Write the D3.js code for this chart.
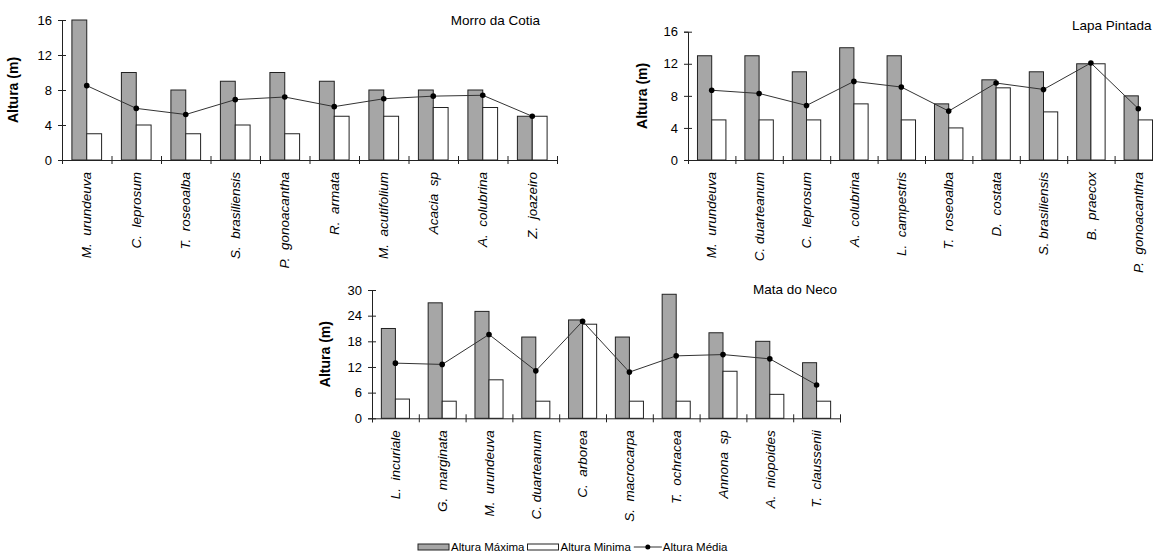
<!DOCTYPE html>
<html>
<head>
<meta charset="utf-8">
<script src="https://cdn.jsdelivr.net/npm/d3@7"></script>
<style>
  body { margin: 0; background: #fff; }
  svg { display: block; font-family: "Liberation Sans", Arial, sans-serif; }
</style>
</head>
<body>
<svg width="1153" height="553"></svg>
<script>
// Morro da Cotia
let cotiaSpecies = ["M.  urundeuva", "C.  leprosum", "T.  roseoalba", "S.  brasiliensis", "P.  gonoacantha",
    "R.  armata", "M.  acutifolium", "Acacia  sp", "A.  colubrina", "Z.  joazeiro"];
let cotiaMax = [16, 10, 8, 9, 10, 9, 8, 8, 8, 5];
let cotiaMin = [3, 4, 3, 4, 3, 5, 5, 6, 6, 5];
let cotiaMean = [8.5, 5.9, 5.2, 6.9, 7.2, 6.1, 7.0, 7.3, 7.4, 5.0];
let cotiaTicks = [0, 4, 8, 12, 16];

// Lapa Pintada
let lapaSpecies = ["M.  urundeuva", "C. duarteanum", "C.  leprosum", "A.  colubrina", "L.  campestris",
    "T.  roseoalba", "D.  costata", "S. brasiliensis", "B.  praecox", "P.  gonoacanthra"];
let lapaMax = [13, 13, 11, 14, 13, 7, 10, 11, 12, 8];
let lapaMin = [5, 5, 5, 7, 5, 4, 9, 6, 12, 5];
let lapaMean = [8.7, 8.3, 6.8, 9.8, 9.1, 6.1, 9.6, 8.8, 12.1, 6.4];
let lapaTicks = [0, 4, 8, 12, 16];

// Mata do Neco
let necoSpecies = ["L.  incuriale", "G.  marginata", "M.  urundeuva", "C. duarteanum", "C.  arborea",
    "S.  macrocarpa", "T.  ochracea", "Annona  sp", "A.  niopoides", "T.  claussenii"];
let necoMax = [21, 27, 25, 19, 23, 19, 29, 20, 18, 13];
let necoMin = [4.5, 4, 9, 4, 22, 4, 4, 11, 5.6, 4];
let necoMean = [12.9, 12.6, 19.6, 11.1, 22.7, 10.8, 14.6, 14.9, 13.9, 7.8];
let necoTicks = [0, 6, 12, 18, 24, 30];

let legendLabels = ["Altura Máxima", "Altura Minima", "Altura Média"];

let svg = d3.select('svg');

function drawPanel(p) {
    let g = svg.append('g');
    let n = p.species.length;
    let top = p.ticks[p.ticks.length - 1];

    let yScale = d3.scaleLinear()
        .domain([0, top])
        .range([p.bottom, p.top]);

    let xScale = d3.scaleBand()
        .domain(p.species)
        .range([p.left, p.right])
        .padding(0);

    let bw = xScale.bandwidth();
    let sub = d3.scaleBand()
        .domain(['max', 'min'])
        .range([bw * 0.2, bw * 0.8])
        .padding(0);

    // y axis
    let yAxis = g.append('g')
        .attr('transform', `translate(${p.left}, 0)`)
        .call(d3.axisLeft(yScale).tickValues(p.ticks).tickSize(4).tickPadding(6));
    yAxis.select('.domain').attr('stroke', '#222');
    yAxis.selectAll('.tick line').attr('x1', 4).attr('x2', -4).attr('stroke', '#222');
    yAxis.selectAll('.tick text')
        .style('font-family', '"Liberation Sans", Arial, sans-serif')
        .style('font-size', '13px')
        .attr('fill', '#000');

    g.append('text')
        .attr('transform', `translate(${p.left - p.labelGap}, ${(p.top + p.bottom) / 2}) rotate(-90)`)
        .attr('text-anchor', 'middle')
        .style('font-size', '14px')
        .style('font-weight', 'bold')
        .text('Altura (m)');

    // bars
    let groups = g.selectAll('.cat')
        .data(p.species)
        .enter()
        .append('g')
        .attr('transform', (s) => `translate(${xScale(s)}, 0)`);

    groups.append('rect')
        .attr('x', sub('max'))
        .attr('y', (s, i) => yScale(p.max[i]))
        .attr('width', sub.bandwidth())
        .attr('height', (s, i) => p.bottom - yScale(p.max[i]))
        .attr('fill', '#a6a6a6')
        .attr('stroke', '#222')
        .attr('stroke-width', 1);

    groups.append('rect')
        .attr('x', sub('min'))
        .attr('y', (s, i) => yScale(p.min[i]))
        .attr('width', sub.bandwidth())
        .attr('height', (s, i) => p.bottom - yScale(p.min[i]))
        .attr('fill', '#fff')
        .attr('stroke', '#222')
        .attr('stroke-width', 1);

    // x axis with crossing ticks at category boundaries
    let xEdges = d3.scaleLinear().domain([0, n]).range([p.left, p.right]);
    let xAxis = g.append('g')
        .attr('transform', `translate(0, ${p.bottom})`)
        .call(d3.axisBottom(xEdges).ticks(n).tickFormat('').tickSizeOuter(0).tickSize(4));
    xAxis.select('.domain').attr('stroke', '#222');
    xAxis.selectAll('.tick line').attr('y1', -4).attr('y2', 4).attr('stroke', '#222');

    // category labels
    g.selectAll('.lab')
        .data(p.species)
        .enter()
        .append('text')
        .attr('transform', (s) => `translate(${xScale(s) + bw / 2}, ${p.bottom + 12}) rotate(-90)`)
        .attr('text-anchor', 'end')
        .attr('dy', '0.35em')
        .style('font-size', '13.5px')
        .style('font-style', 'italic')
        .style('white-space', 'pre')
        .text((s) => s);

    // mean line
    let line = d3.line()
        .x((s) => xScale(s) + bw / 2)
        .y((s, i) => yScale(p.mean[i]));
    g.append('path')
        .datum(p.species)
        .attr('d', line)
        .attr('fill', 'none')
        .attr('stroke', '#333')
        .attr('stroke-width', 1);
    g.selectAll('.dot')
        .data(p.species)
        .enter()
        .append('circle')
        .attr('cx', (s) => xScale(s) + bw / 2)
        .attr('cy', (s, i) => yScale(p.mean[i]))
        .attr('r', 2.8)
        .attr('fill', '#000');

    g.append('text')
        .attr('x', p.titleX)
        .attr('y', p.titleY)
        .attr('text-anchor', p.titleAnchor)
        .style('font-size', '13.5px')
        .text(p.title);
}

drawPanel({
    species: cotiaSpecies, max: cotiaMax, min: cotiaMin, mean: cotiaMean, ticks: cotiaTicks,
    left: 62, right: 557, top: 20, bottom: 160, labelGap: 44,
    title: 'Morro da Cotia', titleX: 540, titleY: 25, titleAnchor: 'end'
});

drawPanel({
    species: lapaSpecies, max: lapaMax, min: lapaMin, mean: lapaMean, ticks: lapaTicks,
    left: 688, right: 1162, top: 31.7, bottom: 160, labelGap: 41,
    title: 'Lapa Pintada', titleX: 1072, titleY: 30, titleAnchor: 'start'
});

drawPanel({
    species: necoSpecies, max: necoMax, min: necoMin, mean: necoMean, ticks: necoTicks,
    left: 372, right: 840, top: 290, bottom: 418.3, labelGap: 42,
    title: 'Mata do Neco', titleX: 837, titleY: 294, titleAnchor: 'end'
});

// legend
let legend = svg.append('g').attr('transform', 'translate(418, 547)');
let lx = 0;
legendLabels.forEach(function (label, i) {
    let item = legend.append('g').attr('transform', `translate(${lx}, 0)`);
    if (i < 2) {
        item.append('rect')
            .attr('x', 0).attr('y', -3)
            .attr('width', 31).attr('height', 6)
            .attr('fill', i === 0 ? '#a6a6a6' : '#fff')
            .attr('stroke', '#222');
    } else {
        item.append('line')
            .attr('x1', 0).attr('x2', 28).attr('y1', 0).attr('y2', 0)
            .attr('stroke', '#333');
        item.append('circle').attr('cx', 14).attr('cy', 0).attr('r', 2.5).attr('fill', '#000');
    }
    let t = item.append('text')
        .attr('x', i < 2 ? 33 : 29)
        .attr('dy', '0.35em')
        .style('font-size', '11.5px')
        .text(label);
    lx += (i < 2 ? 33 : 29) + t.node().getComputedTextLength() + 3;
});
</script>
</body>
</html>
